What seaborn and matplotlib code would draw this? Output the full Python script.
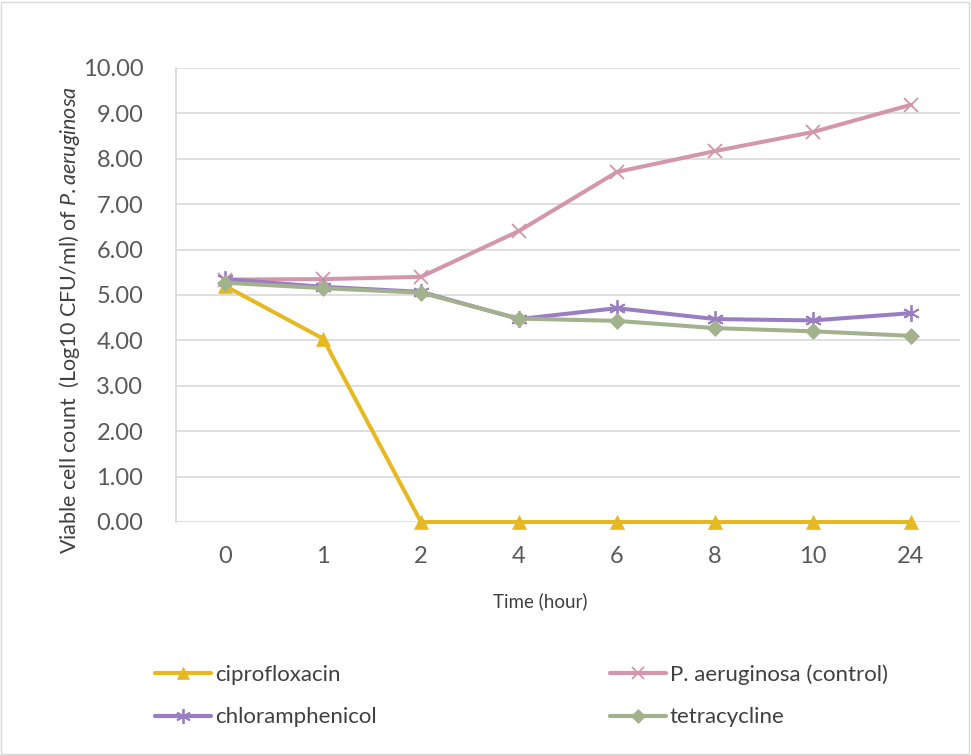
import matplotlib
matplotlib.use("Agg")
import matplotlib.pyplot as plt
import seaborn as sns
import pandas as pd
from matplotlib.patches import Rectangle
from matplotlib.lines import Line2D

time_labels = ["0", "1", "2", "4", "6", "8", "10", "24"]
ciprofloxacin = [5.20, 4.04, 0.00, 0.00, 0.00, 0.00, 0.00, 0.00]
control = [5.34, 5.35, 5.40, 6.41, 7.71, 8.17, 8.59, 9.19]
chloramphenicol = [5.35, 5.18, 5.07, 4.47, 4.71, 4.47, 4.44, 4.60]
tetracycline = [5.27, 5.15, 5.05, 4.48, 4.43, 4.27, 4.20, 4.10]
yticks = [0, 1, 2, 3, 4, 5, 6, 7, 8, 9, 10]

series = [
    ("ciprofloxacin", ciprofloxacin, "#E6B922", "^", 10),
    ("P. aeruginosa (control)", control, "#D396AA", "x", 10),
    ("chloramphenicol", chloramphenicol, "#997FC2", (6, 2, 0), 12),
    ("tetracycline", tetracycline, "#A1B28D", "D", 8),
]

sns.set_theme(style="white")
plt.rcParams["font.family"] = ["Lato", "DejaVu Sans"]
plt.rcParams["mathtext.fontset"] = "custom"
plt.rcParams["mathtext.it"] = "Lato:italic"
plt.rcParams["mathtext.rm"] = "Lato"

fig = plt.figure(figsize=(9.71, 7.55), dpi=100)
ax = fig.add_axes([176 / 971, 1 - 522 / 755, (960 - 176) / 971, (522 - 68) / 755])


def mew(mk):
    return 1.3 if mk in ("x", (6, 2, 0)) else 0.5


draw_order = [2, 3, 1, 0]
for i in draw_order:
    name, vals, col, mk, ms = series[i]
    df = pd.DataFrame({"time": time_labels, "v": vals})
    sns.lineplot(data=df, x="time", y="v", ax=ax, color=col, lw=2.9,
                 marker=mk, markersize=ms, markeredgecolor=col,
                 markeredgewidth=mew(mk), sort=False, zorder=3 + i,
                 clip_on=False)

ax.set_xlim(-0.5, 7.5)
ax.set_ylim(0, 10)
ax.set_yticks(yticks)
ax.set_yticklabels([f"{v:.2f}" for v in yticks], fontsize=17, color="#595959")
ax.tick_params(axis="x", labelsize=17, labelcolor="#595959", length=0, pad=17)
ax.tick_params(axis="y", length=0, pad=23.5)
ax.grid(axis="y", color="#D9D9D9", lw=1.2)
ax.set_axisbelow(True)
for s in ["top", "right", "bottom"]:
    ax.spines[s].set_visible(False)
ax.spines["left"].set_color("#D9D9D9")
ax.spines["left"].set_linewidth(1.2)
ax.set_xlabel("Time (hour)", fontsize=13.5, color="#404040")
ax.set_ylabel(r"Viable cell count  (Log10 CFU/ml) of $\it{P{.}aeruginosa}$",
              fontsize=15.5, color="#404040")
ax.yaxis.set_label_coords(-0.12, 0.445)
ax.xaxis.set_label_coords(0.465, -0.155)

handles = []
for idx in [0, 2, 1, 3]:
    name, vals, col, mk, ms = series[idx]
    handles.append(Line2D([0], [0], color=col, lw=3, marker=mk, markersize=ms * 0.9,
                          markeredgecolor=col, markeredgewidth=mew(mk), label=name))
leg = fig.legend(handles=handles, loc="center left", bbox_to_anchor=(155 / 971, 1 - 696 / 755),
                 ncol=2, frameon=False, fontsize=16, handlelength=2.5,
                 handletextpad=0.2, columnspacing=10.5, labelspacing=1.0,
                 borderpad=0, borderaxespad=0)
for t in leg.get_texts():
    t.set_color("#404040")

fig.patches.append(Rectangle((0.001, 0.001), 0.997, 0.997, transform=fig.transFigure,
                             fill=False, edgecolor="#D9D9D9", lw=1))

fig.savefig("out.png", dpi=100)
